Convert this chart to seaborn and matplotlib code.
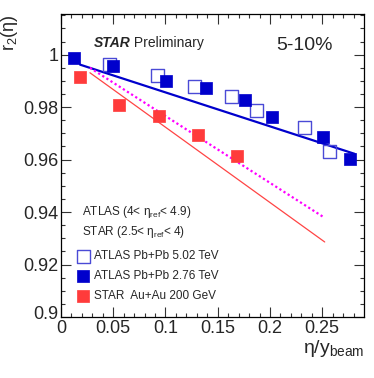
import numpy as np
import pandas as pd
import matplotlib
matplotlib.use("Agg")
import matplotlib.pyplot as plt
import matplotlib.transforms as mtrans
import seaborn as sns

# ATLAS Pb+Pb 2.76 TeV (filled blue)
atlas276_x = [0.0125, 0.0497, 0.1004, 0.1386, 0.1759, 0.2017, 0.2505, 0.2763]
atlas276_y = [0.9989, 0.9958, 0.9901, 0.9874, 0.9828, 0.9763, 0.9687, 0.9603]

# ATLAS Pb+Pb 5.02 TeV (open blue)
atlas502_x = [0.0468, 0.0927, 0.1280, 0.1635, 0.1874, 0.2333, 0.2572]
atlas502_y = [0.9962, 0.9920, 0.9878, 0.9840, 0.9786, 0.9721, 0.9630]

# STAR Au+Au 200 GeV (red)
star_x = [0.0182, 0.0554, 0.0937, 0.1310, 0.1680]
star_y = [0.9916, 0.9809, 0.9767, 0.9695, 0.9615]

# line endpoints
blue_line_x = [0.0182, 0.2810]
blue_line_y = [0.9962, 0.9622]
red_line_x = [0.0277, 0.2524]
red_line_y = [0.9931, 0.9286]
mag_line_x = [0.0277, 0.2524]
mag_line_y = [0.9950, 0.9378]

sns.set_style("ticks")
plt.rcParams['font.family'] = ['Liberation Sans', 'DejaVu Sans']
plt.rcParams['mathtext.fontset'] = 'custom'
plt.rcParams['mathtext.rm'] = 'Liberation Sans'
plt.rcParams['mathtext.it'] = 'Liberation Sans:italic'

fig = plt.figure(figsize=(3.74, 3.78), dpi=100)
ax = fig.add_axes([61/374, 61/378, 303/374, 303/378])

sns.lineplot(x=blue_line_x, y=blue_line_y, color='#0000cc', lw=1.6, ax=ax)
sns.lineplot(x=red_line_x, y=red_line_y, color='#ff4444', lw=0.9, ax=ax)
sns.lineplot(x=mag_line_x, y=mag_line_y, color='#ff00ff', lw=1.6, ls=(0, (1, 1.2)), ax=ax)

sns.scatterplot(x=atlas502_x, y=atlas502_y, marker='s', s=85, facecolor='none',
                edgecolor='#4a4ad6', linewidth=1.0, ax=ax, label='ATLAS Pb+Pb 5.02 TeV', zorder=3)
sns.scatterplot(x=atlas276_x, y=atlas276_y, marker='s', s=85, color='#0000cc',
                edgecolor='#0000cc', linewidth=0.5, ax=ax, label='ATLAS Pb+Pb 2.76 TeV', zorder=4)
sns.scatterplot(x=star_x, y=star_y, marker='s', s=85, color='#ff3b3b',
                edgecolor='#ff3b3b', linewidth=0.5, ax=ax, label='STAR  Au+Au 200 GeV', zorder=4)

ax.set_xlim(0, 0.29)
ax.set_ylim(0.9, 1.0155)
ax.set_xticks(np.arange(0, 0.26, 0.05))
ax.set_xticklabels(['0', '0.05', '0.1', '0.15', '0.2', '0.25'])
ax.set_xticks(np.arange(0, 0.29, 0.01), minor=True)
ax.set_yticks(np.arange(0.9, 1.001, 0.02))
ax.set_yticklabels(['0.9', '0.92', '0.94', '0.96', '0.98', '1'])
ax.set_yticks(np.arange(0.9, 1.0155, 0.005), minor=True)
ax.tick_params(which='both', direction='in', top=True, right=True, width=0.8, color='#333333')
ax.tick_params(which='major', length=7, labelsize=13, pad=2)
ax.tick_params(which='minor', length=3)
for s in ax.spines.values():
    s.set_linewidth(0.9)
    s.set_color('black')

# nudge the "0.9" label up a little so it does not collide with the x "0"
lab = ax.get_yticklabels()[0]
lab.set_transform(lab.get_transform() + mtrans.ScaledTranslation(0, 3/72, fig.dpi_scale_trans))

ax.set_xlabel('η/y$_{\\rm beam}$', fontsize=14, loc='right', labelpad=1)
ax.set_ylabel('r$_2$(η)', fontsize=13, loc='top', labelpad=2)

t = ax.text(0.108, 0.905, 'STAR', transform=ax.transAxes, fontsize=10,
            fontweight='bold', fontstyle='italic', va='center')
ax.annotate(' Preliminary', xy=(1, 0), xycoords=t, fontsize=10, va='bottom')
ax.text(0.71, 0.895, '5-10%', transform=ax.transAxes, fontsize=14, va='center')

ax.text(0.069, 0.347, 'ATLAS (4< η$_{\\rm ref}$< 4.9)', transform=ax.transAxes,
        fontsize=8.5, va='center')
ax.text(0.069, 0.281, 'STAR (2.5< η$_{\\rm ref}$< 4)', transform=ax.transAxes,
        fontsize=8.5, va='center')

leg = ax.legend(loc='lower left', bbox_to_anchor=(0.035, 0.035), frameon=False, fontsize=8.5,
                handletextpad=0.3, labelspacing=0.65, handlelength=1.2, borderaxespad=0)

fig.savefig('out.png', dpi=100)
